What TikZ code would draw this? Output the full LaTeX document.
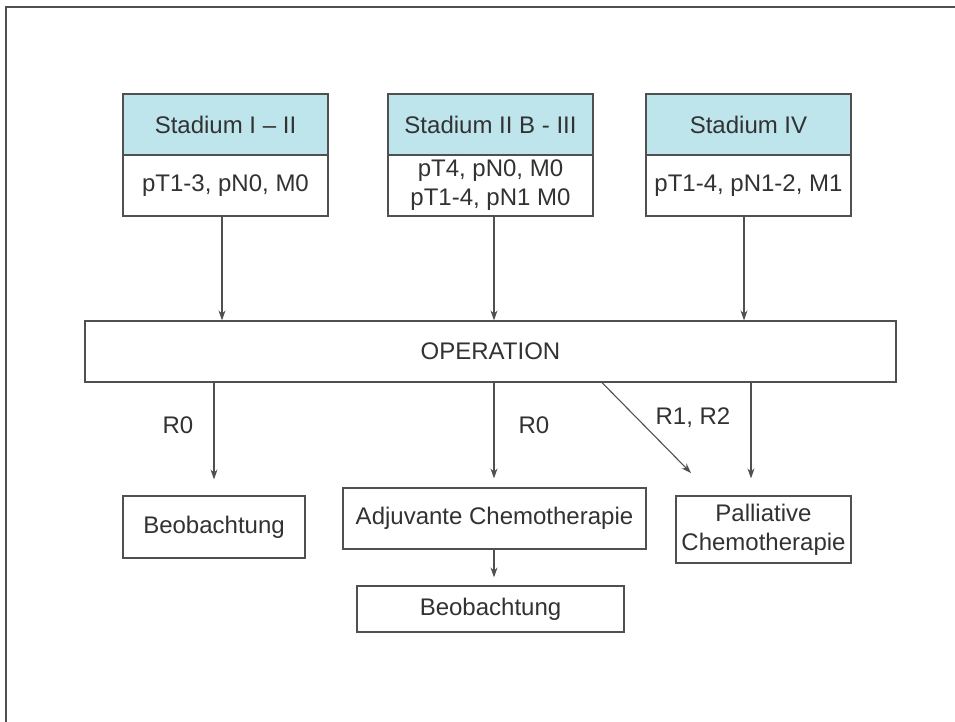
\documentclass[tikz,border=0pt]{standalone}
\usepackage{fontspec}
\setmainfont{Liberation Sans}
\usetikzlibrary{arrows.meta}
\definecolor{hdr}{RGB}{190,228,236}
\definecolor{ink}{RGB}{50,50,50}
\definecolor{lin}{RGB}{80,80,80}
\tikzset{
  box/.style={draw=lin, line width=1.2pt, fill=white, text=ink, inner sep=0pt, align=center, font=\fontsize{24}{29}\selectfont},
  hbox/.style={box, fill=hdr},
  arr/.style={draw=lin, line width=1.1pt, -{Stealth[length=10pt,width=7pt]}},
  lbl/.style={text=ink, font=\fontsize{24}{29}\selectfont},
}
\begin{document}
\begin{tikzpicture}[x=1pt,y=-1pt]
\useasboundingbox (0,0) rectangle (955,722);
\fill[white] (0,0) rectangle (955,722);
\draw[lin, line width=2pt] (6,722) -- (6,7) -- (955,7);

\node[hbox, minimum width=205, minimum height=61] (h1) at (225.5,124.5) {Stadium I – II};
\node[box, minimum width=205, minimum height=61] (b1) at (225.5,185.5) {pT1-3, pN0, M0};
\node[hbox, minimum width=205, minimum height=61] (h2) at (490.5,124.5) {Stadium II B - III};
\node[box, minimum width=205, minimum height=61] (b2) at (490.5,185.5) {pT4, pN0, M0\\pT1-4, pN1 M0};
\node[hbox, minimum width=205, minimum height=61] (h3) at (748.5,124.5) {Stadium IV};
\node[box, minimum width=205, minimum height=61] (b3) at (748.5,185.5) {pT1-4, pN1-2, M1};

\node[box, minimum width=811, minimum height=61] (op) at (490.5,351.5) {OPERATION};

\node[box, minimum width=182, minimum height=62] (beo1) at (214,527) {Beobachtung};
\node[box, minimum width=303, minimum height=61] (adj) at (494.5,518.5) {Adjuvante Chemotherapie};
\node[box, minimum width=267, minimum height=46] (beo2) at (490.5,609) {Beobachtung};
\node[box, minimum width=175, minimum height=67] (pal) at (763.5,529.5) {Palliative\\Chemotherapie};

\coordinate (x1) at (222,0);
\coordinate (x2) at (494,0);
\coordinate (x3) at (744,0);
\coordinate (xa) at (214,0);
\coordinate (xc) at (751,0);
\coordinate (xd) at (602,0);
\coordinate (dend) at (691,473);

\draw[arr] (b1.south -| x1) -- (op.north -| x1);
\draw[arr] (b2.south -| x2) -- (op.north -| x2);
\draw[arr] (b3.south -| x3) -- (op.north -| x3);

\draw[arr, shorten >=16pt] (op.south -| xa) -- (beo1.north -| xa);
\draw[arr, shorten >=9pt] (op.south -| x2) -- (adj.north -| x2);
\draw[arr, shorten >=17pt] (op.south -| xc) -- (pal.north -| xc);
\draw[arr] (op.south -| xd) -- (dend);
\draw[arr, shorten >=8pt] (adj.south -| x2) -- (beo2.north -| x2);

\node[lbl] (r0a) at (178,425) {R0};
\node[lbl] (r0b) at (534,425) {R0};
\node[lbl] (r12) at (693,418) {R1, R2};
\end{tikzpicture}
\end{document}
